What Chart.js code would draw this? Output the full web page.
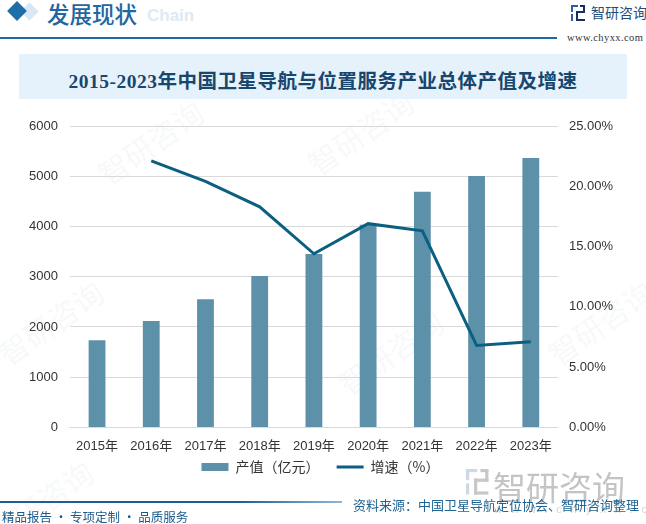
<!DOCTYPE html>
<html>
<head>
<meta charset="utf-8">
<script src="https://cdn.jsdelivr.net/npm/chart.js@4"></script>
<style>
  body { margin: 0; width: 646px; height: 524px; position: relative; overflow: hidden; background: #fff; font-family: "Noto Sans CJK SC", sans-serif; }
  .abs { position: absolute; white-space: nowrap; }
  #diamond2 { left: 23px; top: 5px; width: 13px; height: 13px; background: #d9e8f4; transform: rotate(45deg); }
  #diamond { left: 10px; top: 4px; width: 14px; height: 14px; background: #1f6ea8; transform: rotate(45deg); }
  #head { left: 47px; top: -3px; font-size: 22.5px; color: #1f67a0; font-weight: 500; }
  #chain { left: 147px; top: 6px; font-size: 17px; font-weight: bold; color: #dde9f4; font-family: "Liberation Sans", sans-serif; }
  #headline { left: 0; top: 37px; width: 557px; height: 2px; background: #1f6aa5; }
  #logoTxt { left: 591px; top: 2px; font-size: 14px; color: #1b4f80; }
  #www { left: 567px; top: 32px; font-size: 10.5px; color: #333; letter-spacing: 0.4px; font-family: "Liberation Serif", serif; }
  #titleBox { left: 19px; top: 54px; width: 608px; height: 45px; background: #e6f2fb; }
  #title { left: 0; top: 65px; width: 646px; text-align: center; font-size: 19.5px; letter-spacing: 0.5px; font-weight: bold; color: #17466e; font-family: "Liberation Serif", "Noto Sans CJK SC", serif; }
  #chartBox { left: 0; top: 100px; width: 646px; height: 390px; }
  #bigLogo { left: 493px; top: 462px; font-size: 33px; color: #c4c4c4; }
  #bigWww { left: 494px; top: 503px; font-size: 11px; color: #d4d4d4; letter-spacing: 9px; font-family: "Liberation Sans", sans-serif; }
  #footline { left: 0; top: 501px; width: 342px; height: 2px; background: linear-gradient(to right, #1f5f92, #1f5f92 70%, #8fb6d6); }
  #slogan { left: 2px; top: 507px; font-size: 12.5px; color: #1a5a8a; }
  #source { left: 353px; top: 495px; font-size: 13px; color: #1f6391; }
  .wm { position: absolute; font-size: 30px; color: rgba(190, 205, 222, 0.12); transform: rotate(-35deg); white-space: nowrap; }
</style>
</head>
<body>
<div class="wm" style="left:-10px;top:300px;">智研咨询</div>
<div class="wm" style="left:90px;top:120px;">智研咨询</div>
<div class="wm" style="left:300px;top:110px;">智研咨询</div>
<div class="wm" style="left:330px;top:330px;">智研咨询</div>
<div class="wm" style="left:540px;top:300px;">智研咨询</div>
<div class="wm" style="left:-20px;top:480px;">智研咨询</div>

<div class="abs" id="diamond2"></div>
<div class="abs" id="diamond"></div>
<div class="abs" id="chain">Chain</div>
<div class="abs" id="head">发展现状</div>
<div class="abs" id="headline"></div>
<canvas class="abs" id="logoIcon" width="16" height="16" style="left:571px;top:5px;"></canvas>
<div class="abs" id="logoTxt">智研咨询</div>
<div class="abs" id="www">www.chyxx.com</div>

<div class="abs" id="titleBox"></div>
<div class="abs" id="title">2015-2023年中国卫星导航与位置服务产业总体产值及增速</div>

<div class="abs" id="chartBox"><canvas id="mainChart"></canvas></div>

<canvas class="abs" id="bigIcon" width="24" height="32" style="left:466px;top:469px;"></canvas>
<div class="abs" id="bigLogo">智研咨询</div>
<div class="abs" id="bigWww">www.chyxx.com</div>

<div class="abs" id="footline"></div>
<div class="abs" id="slogan">精品报告 · 专项定制 · 品质服务</div>
<div class="abs" id="source">资料来源：中国卫星导航定位协会、智研咨询整理</div>

<script>
const years = ["2015年", "2016年", "2017年", "2018年", "2019年", "2020年", "2021年", "2022年", "2023年"];
const outputValue = [1735, 2118, 2550, 3016, 3450, 4033, 4690, 5007, 5362];
const growthRate = [null, 22.1, 20.4, 18.3, 14.4, 16.9, 16.3, 6.8, 7.1];
const leftTicks = [0, 1000, 2000, 3000, 4000, 5000, 6000];
const rightTicks = [0, 5, 10, 15, 20, 25];

// small logo icons
function drawIcon(id, s, c1, c2) {
  var c = document.getElementById(id).getContext("2d");
  c.fillStyle = c1;
  c.fillRect(0, 0, 7 * s, 2 * s);
  c.fillRect(0, 0, 2 * s, 7 * s);
  c.fillRect(0, 9 * s, 2 * s, 7 * s);
  c.fillStyle = c2;
  c.fillRect(9 * s, 0, 5 * s, 2 * s);
  c.fillRect(12 * s, 0, 2 * s, 8 * s);
  c.fillRect(5 * s, 6 * s, 9 * s, 2 * s);
  c.fillRect(5 * s, 6 * s, 2 * s, 10 * s);
  c.fillRect(5 * s, 14 * s, 9 * s, 2 * s);
}
drawIcon("logoIcon", 1, "#2a5ea8", "#1b2f5e");
drawIcon("bigIcon", 1.6, "#cfd9e6", "#c8c8c8");

var ctx = document.getElementById("mainChart").getContext("2d");
var chart = new Chart(ctx, {
  type: "bar",
  data: {
    labels: years,
    datasets: [
      {
        label: "产值（亿元）\u3000 ",
        data: outputValue,
        backgroundColor: "#5d91a9",
        borderWidth: 0,
        barPercentage: 0.31,
        categoryPercentage: 1,
        yAxisID: "y",
        order: 2,
      },
      {
        type: "line",
        label: "增速（%）",
        data: growthRate,
        borderColor: "#0b5f80",
        backgroundColor: "#0b5f80",
        borderWidth: 3,
        pointRadius: 0,
        tension: 0,
        yAxisID: "y1",
        order: 1,
      },
    ],
  },
  options: {
    animation: false,
    responsive: true,
    maintainAspectRatio: false,
    layout: {
      padding: { left: 17, right: 22, top: 26, bottom: 6 },
    },
    scales: {
      x: {
        offset: true,
        grid: { display: false, drawTicks: false },
        border: { color: "#d9d9d9" },
        afterFit: (axis) => { axis.height = axis.height - 12; },
        ticks: {
          color: "#333",
          padding: 11,
          font: { size: 13, family: "Liberation Sans, Noto Sans CJK SC" },
        },
      },
      y: {
        position: "left",
        min: 0,
        max: 6000,
        afterBuildTicks: (axis) => { axis.ticks = leftTicks.map((v) => ({ value: v })); },
        grid: { color: "#d9d9d9", drawTicks: false },
        border: { display: false },
        ticks: {
          color: "#333",
          padding: 12,
          font: { size: 13, family: "Liberation Sans" },
          callback: (v) => String(v),
        },
      },
      y1: {
        position: "right",
        min: 0,
        max: 25,
        afterBuildTicks: (axis) => { axis.ticks = rightTicks.map((v) => ({ value: v })); },
        grid: { display: false, drawTicks: false },
        border: { display: false },
        ticks: {
          color: "#333",
          padding: 11,
          font: { size: 13, family: "Liberation Sans" },
          callback: (v) => v.toFixed(2) + "%",
        },
      },
    },
    plugins: {
      tooltip: { enabled: false },
      legend: {
        position: "bottom",
        labels: {
          usePointStyle: true,
          pointStyleWidth: 27,
          boxHeight: 8,
          padding: 7,
          color: "#333",
          font: { size: 14, family: "Noto Sans CJK SC" },
          generateLabels: (c) => c.data.datasets.map((ds, i) => ({
            text: ds.label,
            fillStyle: ds.backgroundColor,
            strokeStyle: ds.borderColor || ds.backgroundColor,
            lineWidth: i ? 3 : 0,
            pointStyle: i ? "line" : "rect",
            datasetIndex: i,
            hidden: false,
            fontColor: "#333",
          })),
        },
      },
    },
  },
});
</script>
</body>
</html>
